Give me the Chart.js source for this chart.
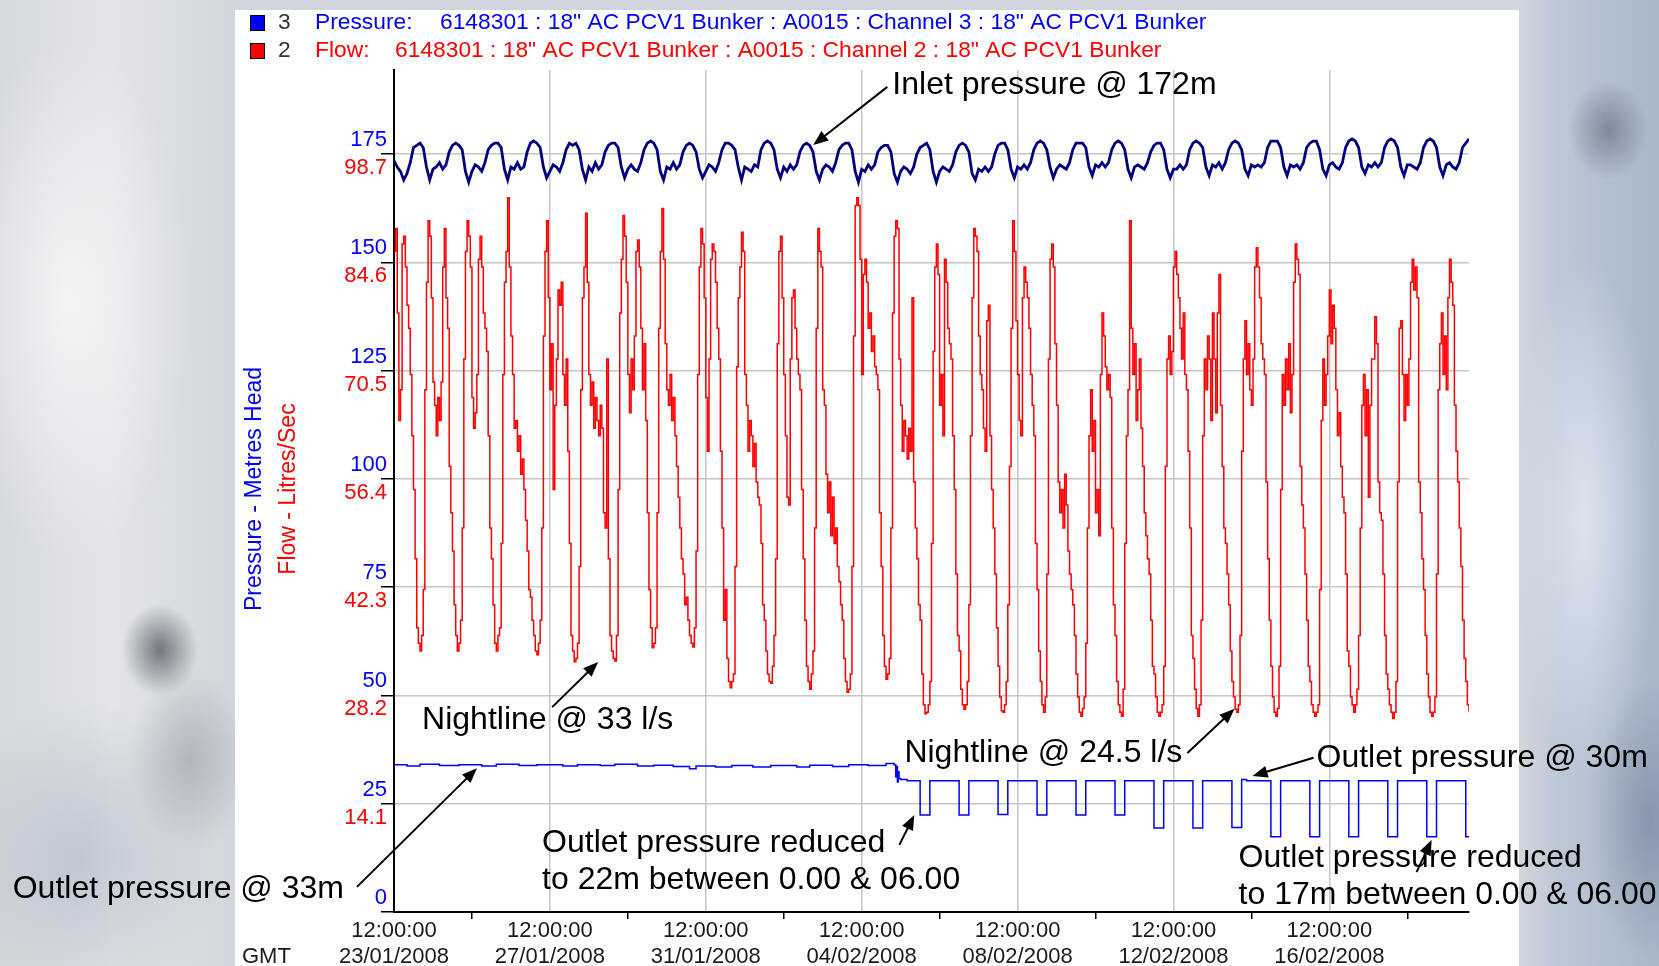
<!DOCTYPE html>
<html>
<head>
<meta charset="utf-8">
<script src="https://cdn.jsdelivr.net/npm/chart.js@4.4.0/dist/chart.umd.min.js"></script>
<style>
  html, body { margin: 0; padding: 0; }
  body {
    width: 1659px; height: 966px; overflow: hidden; position: relative;
    background:
      radial-gradient(ellipse 38px 46px at 160px 650px, rgba(80, 84, 92, 0.75), rgba(80, 84, 92, 0) 100%),
      radial-gradient(ellipse 60px 90px at 190px 760px, rgba(130, 138, 150, 0.45), rgba(130, 138, 150, 0) 100%),
      radial-gradient(ellipse 120px 260px at 70px 300px, rgba(248, 248, 250, 0.8), rgba(248, 248, 250, 0) 100%),
      radial-gradient(ellipse 140px 160px at 80px 860px, rgba(170, 182, 198, 0.6), rgba(170, 182, 198, 0) 100%),
      radial-gradient(ellipse 40px 50px at 1608px 130px, rgba(95, 102, 118, 0.6), rgba(95, 102, 118, 0) 100%),
      radial-gradient(ellipse 70px 260px at 1585px 520px, rgba(232, 238, 246, 0.75), rgba(232, 238, 246, 0) 100%),
      radial-gradient(ellipse 60px 140px at 1650px 820px, rgba(110, 126, 150, 0.6), rgba(110, 126, 150, 0) 100%),
      linear-gradient(to right, #d6d9dd 0px, #e2e4e7 110px, #d2d6dc 235px, #d2d6dc 1519px, #bcc7d5 1560px, #a9b7ca 1659px);
  }
  #panel { position: absolute; left: 235px; top: 10px; width: 1284px; height: 956px; background: #fff; }
  #chart { position: absolute; left: 0; top: 0; }
</style>
</head>
<body>
<div id="panel"></div>
<canvas id="chart" width="1659" height="966"></canvas>
<script>
// hours are counted from 23/01/2008 12:00:00 GMT
const START = Date.UTC(2008, 0, 23, 12)

// flow, l/s, one reading per hour from 23/01 12:00
const flowLs = [
  86, 89, 78, 64, 68, 87, 88, 84, 79, 76, 70, 62,                                                  // 23/01 12-23h
  55, 46, 37, 35, 34, 36, 42, 68, 82, 90, 88, 80, 69, 66, 62, 67, 64, 69, 84, 89, 80, 76, 58, 52,   // 24/01
  47, 40, 36, 34, 35, 38, 50, 72, 86, 90, 88, 84, 67, 63, 65, 70, 85, 88, 84, 78, 76, 73, 62, 50,   // 25/01
  46, 40, 35, 34, 36, 37, 48, 70, 82, 86, 93, 84, 75, 70, 63, 64, 60, 62, 57, 59, 55, 51, 47, 42,   // 26/01
  41, 38, 36, 34, 33.5, 35, 38, 50, 75, 86, 90, 80, 68, 74, 55, 66, 72, 81, 79, 82, 70, 66, 72, 60, // 27/01
  48, 36, 34, 32.6, 33, 35, 45, 68, 80, 84, 91, 82, 70, 66, 69, 63, 67, 64, 62, 66, 63, 52, 50, 72, // 28/01
  46, 36, 34, 33, 32.7, 36, 55, 78, 85, 90.7, 88, 82, 70, 65, 72, 68, 75, 86, 87.5, 84, 76, 68, 74, 64, // 29/01
  52, 42, 37, 34.4, 35, 37, 52, 76, 86, 91.6, 85, 74, 68, 66, 70, 64, 67, 62, 58, 54, 50, 46, 44, 40, // 30/01
  41, 38, 36, 35, 34.5, 37, 47, 70, 84, 89, 87, 80, 67, 60, 72, 85, 87, 86, 82, 76, 72, 60, 50, 38, // 31/01
  42, 33, 30, 29.2, 30, 31, 45, 71, 80, 84, 88.5, 86, 70, 66, 60, 64, 62, 58, 61, 56, 54, 53, 48, 40, // 01/02
  38, 34, 31, 30, 29.8, 32, 36, 46, 74, 86, 88, 80, 70, 62, 54, 53, 72, 80, 81, 76, 72, 70, 68, 55, // 02/02
  46, 38, 32, 30, 29, 31, 34, 50, 76, 89, 86, 84, 68, 66, 57, 52, 56, 49, 54, 48, 50, 45, 43, 40,   // 03/02
  38, 33, 30, 28.6, 29, 31, 45, 75, 92, 93, 92, 85, 70, 83, 85, 82, 76, 78, 73, 75, 71, 70, 68, 52, // 04/02
  45, 36, 32, 30.3, 31, 33, 50, 78, 88, 90, 89, 72, 66, 60, 64, 62, 59, 63, 60, 80, 56, 50, 46, 40, // 05/02
  38, 31, 27, 25.8, 26, 27, 30, 48, 73, 84, 87, 83, 66, 70, 62, 85, 82, 76, 74, 72, 62, 55, 44, 36, // 06/02
  34, 29, 27, 26.4, 27, 30, 40, 62, 80, 89, 88, 86, 75, 70, 68, 63, 60, 77, 79, 62, 55, 50, 44, 37, // 07/02
  32, 28, 26.2, 26, 27, 30, 40, 58, 76, 90, 86, 77, 70, 64, 62, 80, 84, 82, 80, 76, 70, 66, 62, 48, // 08/02
  42, 34, 30, 27, 26, 28, 44, 72, 85, 87, 84, 74, 66, 56, 52, 55, 50, 57, 53, 47, 44, 42, 40, 36,   // 09/02
  31, 28, 26, 25.5, 26.5, 28, 35, 50, 62, 68, 60, 64, 52, 55, 49, 70, 78, 75, 71, 68, 70, 67, 50, 40, // 10/02
  36, 30, 27, 26, 25.5, 29, 48, 62, 68, 90, 76, 70, 74, 64, 68, 72, 63, 58, 52, 49, 46, 44, 38, 32, // 11/02
  31, 28, 26, 25.5, 26, 27, 32, 58, 72, 75, 70, 73, 84, 86, 83, 80, 76, 72, 78, 70, 68, 60, 50, 36, // 12/02
  33, 29, 26.5, 25.5, 27, 38, 62, 72, 68, 75, 72, 64, 78, 72, 65, 78, 83, 66, 58, 50, 48, 44, 40, 34, // 13/02
  30, 28, 26.4, 26, 27, 36, 60, 72, 77, 70, 74, 68, 66, 72, 84, 86.5, 84, 80, 74, 72, 70, 56, 46, 38, // 14/02
  32, 28, 26, 25.5, 26.5, 32, 55, 70, 66, 72, 68, 74, 65, 70, 82, 87, 85, 83, 58, 53, 50, 44, 38, 32, // 15/02
  30, 27, 26, 25.5, 26, 27, 42, 64, 72, 66, 70, 75, 81, 74, 79, 76, 68, 62, 65, 58, 54, 52, 44, 34, // 16/02
  32, 28, 27, 26, 27, 29, 36, 50, 66, 70, 62, 68, 54, 66, 72, 72, 77.5, 74, 56, 52, 51, 44, 36, 31, // 17/02
  29, 27, 26, 25.2, 26, 30, 56, 76, 77, 70, 64, 70, 66, 72, 82, 85, 81, 84, 80, 56, 52, 46, 42, 36, // 18/02
  31, 28, 26, 25.5, 26, 28, 44, 68, 74, 78, 70, 75, 68, 80, 85, 82, 79, 66, 60, 56, 50, 45, 38, 33, // 19/02
  30, 27, 26                                                                                        // 20/02 0-2h
]

// inlet pressure, metres head, one reading every 2 hours from 23/01 12:00
const inletM = [
  173.5, 172, 171, 169, 170.5, 173,                                          // 23/01 12-22h
  176.5, 177, 177.5, 176.5, 172, 169, 171.5, 172, 173, 171.5, 172.5, 175.5,   // 24/01
  177, 177.5, 177, 176, 171, 168.5, 171, 172.5, 172, 171, 173, 176,           // 25/01
  177, 177.5, 177.5, 176.5, 171.5, 169, 172, 171.5, 173, 171.5, 172, 175.5,   // 26/01
  177.5, 178, 177.5, 176.5, 172, 169.5, 171, 172.5, 172, 171, 173, 176,       // 27/01
  177.5, 177, 177.5, 176, 171.5, 169, 172, 171, 173, 171.5, 172.5, 175.5,     // 28/01
  177, 177.5, 177.5, 176.5, 172, 169.5, 171.5, 172.5, 171.5, 171, 173, 176,   // 29/01
  177.5, 178, 177.5, 176, 171, 169, 172, 171.5, 173, 171.5, 172.5, 175.5,     // 30/01
  177, 177.5, 177, 175.5, 171.5, 169.5, 171, 172.5, 172, 171, 173, 176,       // 31/01
  177.5, 177.5, 177, 176, 172, 169, 172, 171.5, 171, 172.5, 172, 176,         // 01/02
  177.5, 178, 177.5, 176, 171.5, 169.5, 172, 171, 172.5, 171.5, 172.5, 175.5, // 02/02
  177, 177.5, 177, 175.5, 171, 169, 171.5, 172.5, 172, 171, 173, 176,         // 03/02
  177, 177.5, 177.5, 176, 171, 168.5, 171.5, 171, 172.5, 171.5, 172.5, 175.5, // 04/02
  176.5, 177, 177, 175.5, 170.5, 168.5, 171, 172, 171.5, 170.5, 172, 175,     // 05/02
  176.5, 177, 177.5, 176, 171, 168.5, 171, 172, 171.5, 171, 172.5, 175.5,     // 06/02
  177, 177.5, 177, 175.5, 170.5, 169, 171.5, 171, 172, 171, 172, 175,         // 07/02
  177, 177.5, 177.5, 176, 171.5, 169.5, 172, 171.5, 172.5, 171.5, 173, 176,   // 08/02
  177.5, 178, 177.5, 176, 172, 169.5, 171.5, 172.5, 172, 171.5, 173, 176,     // 09/02
  177.5, 177.5, 177.5, 176.5, 172, 170, 172.5, 172, 173, 172, 173, 176,       // 10/02
  177.5, 178, 177.5, 176, 171.5, 169.5, 172, 172.5, 172, 171.5, 173, 175.5,   // 11/02
  177, 177.5, 177.5, 176, 171.5, 169.5, 171.5, 171.5, 172.5, 171.5, 172.5, 176, // 12/02
  177.5, 178, 177.5, 176.5, 172, 170, 172.5, 172, 173, 171.5, 173, 176,       // 13/02
  177.5, 178, 177.5, 176, 171.5, 170, 172.5, 172, 172.5, 172, 173, 176.5,     // 14/02
  178, 178, 178, 176.5, 172, 170, 172.5, 172, 172.5, 171.5, 173, 176.5,       // 15/02
  177.5, 178, 178, 176, 171.5, 170, 172.5, 173, 172, 171.5, 173, 176.5,       // 16/02
  178, 178.5, 178, 176.5, 172, 170.5, 172.5, 172, 173, 172, 173, 176.5,       // 17/02
  178, 178.5, 178, 176.5, 172, 170, 172.5, 172.5, 172, 171.5, 173, 176.5,     // 18/02
  178, 178.5, 178, 176.5, 172, 170, 172.5, 173, 172, 171.5, 173, 176.5,       // 19/02
  177.5, 178.5                                                               // 20/02 0-2h
]

// outlet pressure, metres head, logged as change points (value holds until the next one)
const outletSteps = [
  ['23/01 12:00', 34.0], ['23/01 20:00', 33.7], ['24/01 04:00', 34.1], ['24/01 16:00', 33.8],
  ['25/01 04:00', 34.0], ['25/01 18:00', 33.7], ['26/01 03:00', 34.1], ['26/01 17:00', 33.8],
  ['27/01 04:00', 34.0], ['27/01 20:00', 33.7], ['28/01 05:00', 34.0], ['28/01 19:00', 33.8],
  ['29/01 04:00', 34.1], ['29/01 18:00', 33.7], ['30/01 04:00', 33.9], ['30/01 16:00', 33.6],
  ['31/01 02:00', 33.1], ['31/01 06:00', 33.7], ['31/01 18:00', 33.5], ['01/02 04:00', 33.8],
  ['01/02 17:00', 33.5], ['02/02 04:00', 33.8], ['02/02 20:00', 33.5], ['03/02 04:00', 33.9],
  ['03/02 18:00', 33.6], ['04/02 04:00', 34.0], ['04/02 16:00', 33.8], ['05/02 03:00', 34.3],
  ['05/02 08:00', 34.0], ['05/02 09:00', 31.2], ['05/02 09:30', 33.6], ['05/02 10:00', 30.0],
  ['05/02 10:30', 32.4], ['05/02 11:00', 30.8], ['05/02 12:00', 30.6], ['05/02 16:00', 30.3],
  ['06/02 00:00', 22.4], ['06/02 06:00', 30.3], ['07/02 00:00', 22.4], ['07/02 06:00', 30.3],
  ['08/02 00:00', 22.5], ['08/02 06:00', 30.3], ['09/02 00:00', 22.4], ['09/02 06:00', 30.3],
  ['10/02 00:00', 22.4], ['10/02 06:00', 30.3], ['11/02 00:00', 22.4], ['11/02 06:00', 30.3],
  ['12/02 00:00', 19.4], ['12/02 06:00', 30.3], ['13/02 00:00', 19.4], ['13/02 06:00', 30.3],
  ['14/02 00:00', 19.5], ['14/02 06:00', 30.6], ['14/02 09:00', 30.3], ['15/02 00:00', 17.4],
  ['15/02 06:00', 30.3], ['16/02 00:00', 17.4], ['16/02 06:00', 30.3], ['17/02 00:00', 17.4],
  ['17/02 06:00', 30.3], ['18/02 00:00', 17.4], ['18/02 06:00', 30.3], ['19/02 00:00', 17.4],
  ['19/02 06:00', 30.3], ['20/02 00:00', 17.4], ['20/02 02:00', 17.4]
]

// axis ticks
const pressureTicks = [0, 25, 50, 75, 100, 125, 150, 175]
const flowTicks = [null, 14.1, 28.2, 42.3, 56.4, 70.5, 84.6, 98.7]
const xTickHours = [0, 48, 96, 144, 192, 240, 288, 336, 384, 432, 480, 528, 576, 624]
const xTickTimes = ['12:00:00', '12:00:00', '12:00:00', '12:00:00', '12:00:00', '12:00:00', '12:00:00']
const xTickDates = ['23/01/2008', '27/01/2008', '31/01/2008', '04/02/2008', '08/02/2008', '12/02/2008', '16/02/2008']

const hoursFrom = (s) => {
  const [d, t] = s.split(' ')
  const [dd, mm] = d.split('/').map(Number)
  const [hh, mi] = t.split(':').map(Number)
  return (Date.UTC(2008, mm - 1, dd, hh, mi) - START) / 3600000
}

const flowPoints = flowLs.map((v, i) => ({ x: i, y: v }))
const inletPoints = inletM.map((v, i) => ({ x: i * 2, y: v }))
const outletPoints = outletSteps.map(([t, v]) => ({ x: hoursFrom(t), y: v }))

const P_MAX = 194.4
const FLOW_MAX = P_MAX * 98.7 / 175

// notes: text anchor, arrow tail and arrow tip, in [hours, metres head]
const notes = [
  { lines: ['Inlet pressure @ 172m'], at: [306.9, 190.9], tail: [303.8, 190.5], tip: [258.2, 177.1] },
  { lines: ['Nightline @ 33 l/s'], at: [17.3, 44.3], tail: [97.4, 47.3], tip: [125.7, 57.7] },
  { lines: ['Nightline @ 24.5 l/s'], at: [314.3, 36.7], tail: [488.6, 36.7], tip: [517.6, 46.9] },
  { lines: ['Outlet pressure @ 30m'], at: [568.1, 35.6], tail: [566.3, 35.6], tip: [528.7, 31.4] },
  { lines: ['Outlet pressure @ 33m'], at: [-234.8, 5.3], tail: [-22.8, 5.8], tip: [51.1, 33.2] },
  { lines: ['Outlet pressure reduced', 'to 22m between 0.00 & 06.00'], at: [91.2, 15.9], tail: [311.2, 15.5], tip: [320.4, 22.4] },
  { lines: ['Outlet pressure reduced', 'to 17m between 0.00 & 06.00'], at: [520.1, 12.5], tail: [629.7, 9.2], tip: [639.0, 16.6] }
]

const FONT = '"Liberation Sans", Arial, sans-serif'

function arrow(ctx, x1, y1, x2, y2) {
  const a = Math.atan2(y2 - y1, x2 - x1)
  const len = 15, half = 6
  ctx.beginPath()
  ctx.moveTo(x1, y1)
  ctx.lineTo(x2 - Math.cos(a) * len * 0.8, y2 - Math.sin(a) * len * 0.8)
  ctx.stroke()
  ctx.beginPath()
  ctx.moveTo(x2, y2)
  ctx.lineTo(x2 - Math.cos(a) * len + Math.sin(a) * half, y2 - Math.sin(a) * len - Math.cos(a) * half)
  ctx.lineTo(x2 - Math.cos(a) * len - Math.sin(a) * half, y2 - Math.sin(a) * len + Math.cos(a) * half)
  ctx.closePath()
  ctx.fill()
}

const decorations = {
  id: 'decorations',
  afterDraw(chart) {
    const { ctx, scales: { x, y, y2 } } = chart
    const left = chart.chartArea.left
    ctx.save()

    // y tick labels: pressure above the grid line, flow below
    ctx.font = '22px ' + FONT
    ctx.textAlign = 'right'
    ctx.textBaseline = 'middle'
    pressureTicks.forEach((v, i) => {
      ctx.fillStyle = '#0000ff'
      ctx.fillText(String(v), left - 7, y.getPixelForValue(v) - 14)
      if (flowTicks[i] !== null) {
        ctx.fillStyle = '#ff0000'
        ctx.fillText(flowTicks[i].toFixed(1), left - 7, y2.getPixelForValue(flowTicks[i]) + 14)
      }
    })

    // x tick labels
    ctx.textAlign = 'center'
    ctx.fillStyle = '#1a1a1a'
    xTickDates.forEach((d, i) => {
      const px = x.getPixelForValue(i * 96)
      ctx.fillText(xTickTimes[i], px, 931)
      ctx.fillText(d, px, 957)
    })
    ctx.textAlign = 'left'
    ctx.fillText('GMT', 242, 957)

    // axis titles
    ctx.font = '23px ' + FONT
    ctx.textAlign = 'center'
    ctx.save()
    ctx.translate(255, 489)
    ctx.rotate(-Math.PI / 2)
    ctx.fillStyle = '#0000ff'
    ctx.fillText('Pressure - Metres Head', 0, 0)
    ctx.restore()
    ctx.save()
    ctx.translate(289, 489)
    ctx.rotate(-Math.PI / 2)
    ctx.fillStyle = '#ff0000'
    ctx.fillText('Flow - Litres/Sec', 0, 0)
    ctx.restore()

    // legend
    ctx.font = '22.8px ' + FONT
    ctx.textAlign = 'left'
    const rows = [
      { y: 23, sw: '#0000ff', n: '3', name: 'Pressure:', nx: 440, text: '6148301 : 18" AC PCV1 Bunker : A0015 : Channel 3 : 18" AC PCV1 Bunker' },
      { y: 51, sw: '#ff0000', n: '2', name: 'Flow:', nx: 395, text: '6148301 : 18" AC PCV1 Bunker : A0015 : Channel 2 : 18" AC PCV1 Bunker' }
    ]
    rows.forEach(r => {
      ctx.fillStyle = r.sw
      ctx.fillRect(250, r.y - 8, 15, 16)
      ctx.strokeStyle = '#000'
      ctx.lineWidth = 1
      ctx.strokeRect(250.5, r.y - 7.5, 14, 15)
      ctx.fillStyle = '#333'
      ctx.fillText(r.n, 278, r.y)
      ctx.fillStyle = r.sw
      ctx.fillText(r.name, 315, r.y)
      ctx.fillText(r.text, r.nx, r.y)
    })

    // notes with arrows
    ctx.font = '32px ' + FONT
    ctx.fillStyle = '#000'
    ctx.strokeStyle = '#000'
    ctx.lineWidth = 2
    notes.forEach(n => {
      const tx = x.getPixelForValue(n.at[0]), ty = y.getPixelForValue(n.at[1])
      n.lines.forEach((l, i) => ctx.fillText(l, tx, ty + i * 37))
      arrow(ctx, x.getPixelForValue(n.tail[0]), y.getPixelForValue(n.tail[1]),
        x.getPixelForValue(n.tip[0]), y.getPixelForValue(n.tip[1]))
    })
    ctx.restore()
  }
}

new Chart(document.getElementById('chart'), {
  type: 'line',
  data: {
    datasets: [
      { label: 'Flow', data: flowPoints, yAxisID: 'y2', borderColor: '#ff0000', borderWidth: 1.5, stepped: 'before' },
      { label: 'Inlet pressure', data: inletPoints, yAxisID: 'y', borderColor: '#000080', borderWidth: 2.8 },
      { label: 'Outlet pressure', data: outletPoints, yAxisID: 'y', borderColor: '#0000ff', borderWidth: 1.5, stepped: 'before' }
    ]
  },
  options: {
    responsive: false,
    animation: false,
    devicePixelRatio: 1,
    layout: { padding: { left: 0, top: 70, right: 190, bottom: 0 } },
    elements: { point: { radius: 0 }, line: { tension: 0 } },
    plugins: { legend: { display: false }, tooltip: { enabled: false } },
    scales: {
      x: {
        type: 'linear',
        min: 0,
        max: 662,
        afterBuildTicks: (s) => { s.ticks = xTickHours.map(v => ({ value: v })) },
        afterFit: (s) => { s.height = 54 },
        ticks: { display: false },
        grid: {
          color: (c) => c.tick && c.tick.value > 0 && c.tick.value % 96 === 0 ? '#c6c6c6' : 'rgba(0,0,0,0)',
          tickColor: (c) => c.tick && c.tick.value % 96 === 48 ? '#000' : 'rgba(0,0,0,0)',
          tickLength: 7,
          lineWidth: 1.5
        },
        border: { color: '#000', width: 2 }
      },
      y: {
        position: 'left',
        min: 0,
        max: P_MAX,
        afterBuildTicks: (s) => { s.ticks = pressureTicks.map(v => ({ value: v })) },
        afterFit: (s) => { s.width = 394 },
        ticks: { display: false },
        grid: {
          color: (c) => c.tick && c.tick.value > 0 ? '#c6c6c6' : 'rgba(0,0,0,0)',
          tickColor: '#000',
          tickLength: 13,
          lineWidth: 1.5
        },
        border: { color: '#000', width: 2 }
      },
      y2: { display: false, position: 'left', min: 0, max: FLOW_MAX }
    }
  },
  plugins: [decorations]
})
</script>
</body>
</html>
